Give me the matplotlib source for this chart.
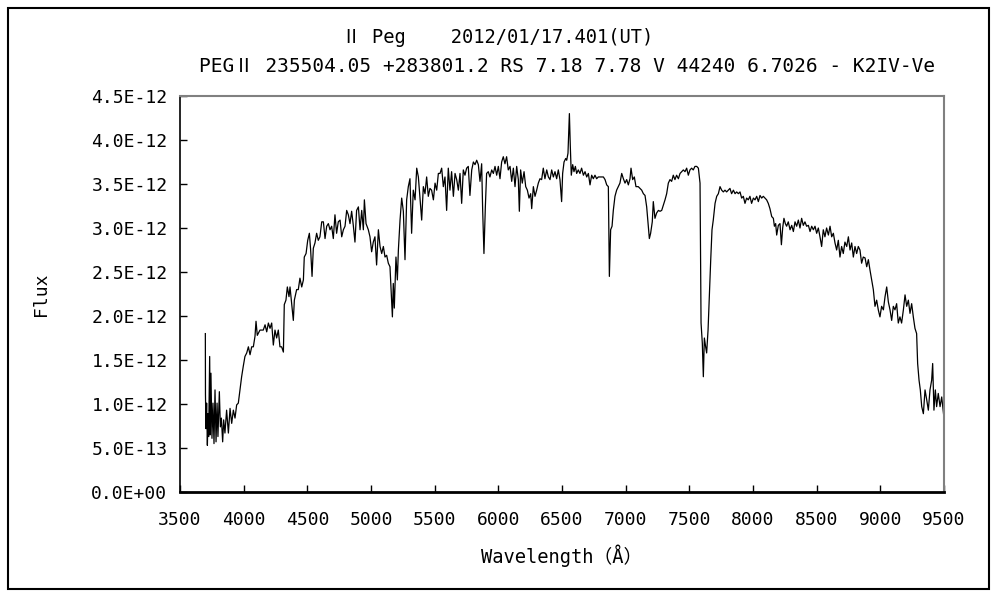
import matplotlib
matplotlib.use("Agg")
import matplotlib.pyplot as plt
from matplotlib.patches import Rectangle
from matplotlib.ticker import FuncFormatter, MultipleLocator

plt.rcParams['font.family'] = ['DejaVu Sans Mono', 'Noto Sans CJK JP']

title1 = "Ⅱ Peg    2012/01/17.401(UT)"
title2 = "PEGⅡ 235504.05 +283801.2 RS 7.18 7.78 V 44240 6.7026 - K2IV-Ve"

# wavelength (A) and flux (1E-12)
wavelength = [
    3699, 3700, 3704, 3709, 3715, 3720, 3725, 3733, 3738, 3743, 3751, 3759, 3767, 3775, 3783, 3791,
    3798, 3809, 3817, 3825, 3835, 3843, 3853, 3866, 3880, 3893, 3906, 3919, 3932, 3945, 3958, 3971,
    3984, 3997, 4010, 4024, 4037, 4050, 4063, 4076, 4089, 4097, 4107, 4128, 4154, 4168, 4181, 4194,
    4207, 4220, 4233, 4246, 4259, 4272, 4285, 4298, 4312, 4319, 4332, 4343, 4356, 4364, 4377, 4390,
    4398, 4416, 4429, 4442, 4456, 4469, 4476, 4490, 4503, 4516, 4526, 4537, 4547, 4560, 4573, 4586,
    4599, 4613, 4626, 4639, 4652, 4665, 4678, 4691, 4704, 4717, 4730, 4743, 4757, 4770, 4783, 4796,
    4809, 4822, 4835, 4848, 4861, 4874, 4887, 4901, 4914, 4927, 4940, 4948, 4961, 4979, 4992, 5005,
    5018, 5031, 5044, 5058, 5071, 5084, 5097, 5110, 5123, 5136, 5149, 5157, 5168, 5175, 5183, 5196,
    5207, 5215, 5228, 5241, 5254, 5267, 5280, 5293, 5306, 5319, 5332, 5346, 5359, 5372, 5385, 5398,
    5411, 5424, 5437, 5450, 5463, 5476, 5490, 5503, 5516, 5529,
    5542, 5555, 5568, 5581, 5594, 5607, 5620, 5633, 5647, 5660, 5673, 5686, 5699, 5712, 5725, 5738,
    5751, 5764, 5777, 5791, 5804, 5817, 5830, 5843, 5856, 5869, 5877, 5887, 5898, 5908, 5921, 5934,
    5948, 5961, 5974, 5987, 6000, 6013, 6026, 6039, 6052, 6065, 6078, 6092, 6105, 6118, 6131, 6144,
    6157, 6165, 6175, 6188, 6202, 6215, 6228, 6241, 6254, 6262, 6275, 6288, 6301, 6314, 6327, 6340,
    6353, 6366, 6380, 6393, 6406, 6419, 6432, 6445, 6458, 6471, 6484, 6497, 6505, 6516, 6529, 6537,
    6547, 6558, 6565, 6573, 6584, 6594, 6605, 6615, 6628, 6641, 6654, 6668, 6681, 6694, 6707, 6720,
    6733, 6746, 6759, 6772, 6785, 6798, 6812, 6825, 6838, 6851, 6864, 6872, 6882, 6893, 6903, 6916,
    6929, 6942, 6955, 6969, 6982, 6995, 7008, 7021, 7034, 7042, 7055, 7068, 7081, 7099, 7113, 7126,
    7139, 7152, 7165, 7178, 7186, 7196, 7209, 7217, 7230, 7243, 7257, 7270, 7283, 7296, 7309, 7322,
    7335, 7348, 7361, 7374, 7387, 7400, 7414,
    7427, 7440, 7453, 7466, 7479, 7492, 7505, 7518, 7531, 7544, 7558, 7571, 7584, 7592, 7602, 7610,
    7618, 7628, 7636, 7647, 7657, 7668, 7678, 7688, 7702, 7715, 7728, 7741, 7754, 7767, 7780, 7793,
    7806, 7819, 7832, 7846, 7859, 7872, 7885, 7898, 7911, 7924, 7937, 7950, 7963, 7976, 7989, 8003,
    8016, 8029, 8042, 8055, 8068, 8081, 8094, 8107, 8120, 8133, 8147, 8160, 8168, 8178, 8186, 8199,
    8212, 8223, 8233, 8243, 8254, 8264, 8277, 8291, 8304, 8317, 8330, 8343, 8356, 8369, 8382, 8395,
    8408, 8421, 8435, 8448, 8461, 8474, 8487, 8500, 8513, 8526, 8539, 8552, 8565, 8578, 8592, 8605,
    8618, 8631, 8644, 8657, 8670, 8683, 8696, 8709, 8722, 8736, 8749, 8762, 8775, 8788, 8801, 8814,
    8827, 8840, 8853, 8866, 8880, 8893, 8906, 8919, 8932, 8945, 8958, 8971, 8984, 8997, 9010, 9024,
    9037, 9050, 9063, 9076, 9089, 9102, 9115, 9128, 9141, 9154, 9167, 9181, 9194, 9207, 9220, 9233,
    9246, 9259, 9272, 9285, 9293, 9304, 9314, 9325, 9338, 9351, 9364, 9377, 9390, 9403, 9411, 9421,
    9432, 9442, 9455, 9469, 9482, 9495, 9500,
]

flux = [
    1.80, 1.11, 0.72, 1.01, 0.53, 0.89, 0.63, 1.54, 0.65, 1.35, 0.61, 1.01, 0.55, 1.16, 0.57, 1.01,
    0.63, 1.14, 0.74, 0.84, 0.57, 0.82, 0.67, 0.93, 0.67, 0.95, 0.78, 0.93, 0.84, 0.99, 1.01, 1.16,
    1.31, 1.43, 1.54, 1.58, 1.65, 1.56, 1.65, 1.65, 1.77, 1.94, 1.78, 1.84, 1.84, 1.90, 1.82, 1.92,
    1.86, 1.92, 1.67, 1.84, 1.75, 1.84, 1.65, 1.65, 1.59, 2.13, 2.18, 2.33, 2.22, 2.33, 2.14, 1.95,
    2.18, 2.30, 2.30, 2.43, 2.33, 2.41, 2.67, 2.71, 2.86, 2.94, 2.75, 2.45, 2.77, 2.83, 2.94, 2.86,
    2.90, 3.07, 3.07, 2.88, 3.02, 3.05, 2.98, 3.02, 2.88, 3.15, 2.94, 3.07, 3.09, 2.90, 2.98, 3.02,
    3.20, 3.15, 3.05, 3.19, 3.03, 2.84, 3.20, 3.24, 2.98, 3.20, 2.98, 3.32, 3.05, 2.98, 2.90, 2.73,
    2.84, 2.90, 2.58, 2.98, 2.79, 2.71, 2.79, 2.67, 2.69, 2.60, 2.56, 2.33, 1.99, 2.37, 2.09, 2.67,
    2.41, 2.75, 3.09, 3.34, 3.19, 2.64, 3.32, 3.47, 3.56, 2.94, 3.43, 3.32, 3.68, 3.58, 3.34, 3.09,
    3.47, 3.39, 3.58, 3.36, 3.45, 3.43, 3.32, 3.51, 3.43, 3.62,
    3.62, 3.68, 3.47, 3.58, 3.20, 3.68, 3.43, 3.64, 3.36, 3.62, 3.55, 3.43, 3.62, 3.28, 3.66, 3.60,
    3.68, 3.70, 3.37, 3.66, 3.75, 3.72, 3.77, 3.72, 3.53, 3.73, 3.20, 2.71, 3.24, 3.62, 3.64, 3.58,
    3.66, 3.62, 3.70, 3.60, 3.70, 3.56, 3.75, 3.81, 3.73, 3.81, 3.66, 3.70, 3.53, 3.68, 3.47, 3.70,
    3.55, 3.19, 3.66, 3.51, 3.64, 3.47, 3.43, 3.34, 3.39, 3.22, 3.47, 3.36, 3.43, 3.51, 3.56, 3.55,
    3.68, 3.56, 3.66, 3.58, 3.55, 3.66, 3.58, 3.64, 3.56, 3.66, 3.55, 3.30, 3.62, 3.75, 3.79, 3.77,
    3.85, 4.30, 3.94, 3.60, 3.72, 3.64, 3.70, 3.62, 3.66, 3.62, 3.68, 3.60, 3.64, 3.58, 3.62, 3.49,
    3.60, 3.56, 3.60, 3.56, 3.58, 3.58, 3.58, 3.58, 3.55, 3.49, 3.47, 2.45, 2.98, 3.02, 3.20, 3.36,
    3.43, 3.47, 3.51, 3.62, 3.56, 3.51, 3.55, 3.49, 3.56, 3.68, 3.55, 3.58, 3.47, 3.47, 3.45, 3.43,
    3.39, 3.37, 3.24, 3.02, 2.88, 2.94, 3.07, 3.30, 3.11, 3.17, 3.20, 3.19, 3.20, 3.26, 3.32, 3.39,
    3.51, 3.55, 3.53, 3.60, 3.55, 3.60, 3.56,
    3.62, 3.64, 3.66, 3.64, 3.68, 3.60, 3.66, 3.68, 3.66, 3.70, 3.70, 3.68, 3.51, 1.92, 1.69, 1.31,
    1.75, 1.65, 1.58, 1.84, 2.22, 2.64, 2.98, 3.09, 3.28, 3.36, 3.39, 3.47, 3.43, 3.41, 3.43, 3.41,
    3.43, 3.45, 3.39, 3.43, 3.39, 3.41, 3.39, 3.41, 3.34, 3.36, 3.28, 3.34, 3.32, 3.36, 3.28, 3.34,
    3.32, 3.36, 3.30, 3.37, 3.34, 3.36, 3.34, 3.32, 3.28, 3.22, 3.13, 3.11, 3.02, 3.05, 2.92, 3.03,
    3.05, 2.81, 3.00, 3.11, 3.05, 3.02, 3.07, 2.98, 3.03, 2.96, 3.07, 3.02, 3.09, 3.00, 3.11, 3.03,
    3.07, 3.02, 3.03, 2.96, 3.02, 2.98, 3.02, 2.94, 3.00, 2.90, 2.79, 2.98, 2.90, 3.00, 2.92, 3.02,
    2.90, 2.94, 2.83, 2.75, 2.86, 2.67, 2.79, 2.71, 2.84, 2.79, 2.90, 2.75, 2.83, 2.67, 2.79, 2.71,
    2.79, 2.75, 2.60, 2.67, 2.66, 2.56, 2.64, 2.52, 2.41, 2.30, 2.11, 2.18, 2.07, 1.99, 2.11, 2.07,
    2.22, 2.33, 2.16, 2.07, 1.95, 2.11, 2.07, 2.14, 1.92, 1.99, 1.92, 2.07, 2.24, 2.11, 2.18, 2.03,
    2.14, 1.99, 1.86, 1.80, 1.46, 1.27, 1.16, 0.97, 0.89, 1.16, 1.05, 0.93, 1.16, 1.27, 1.46, 0.93,
    1.16, 0.97, 1.12, 0.97, 1.08, 0.91, 0.84,
]

flux_abs = [f * 1e-12 for f in flux]

fig = plt.figure(figsize=(10, 6), dpi=100)
ax = fig.add_axes([0.18, 0.18, 0.764, 0.66])

ax.plot(wavelength, flux_abs, color='black', linewidth=0.9)

ax.set_xlim(3500, 9500)
ax.set_ylim(0, 4.5e-12)
ax.xaxis.set_major_locator(MultipleLocator(500))
ax.yaxis.set_major_locator(MultipleLocator(0.5e-12))
ax.yaxis.set_major_formatter(FuncFormatter(lambda v, p: "%.1E" % v))

ax.tick_params(direction='in', length=5, width=1, labelsize=13, colors='black')
ax.tick_params(axis='x', pad=14)
ax.tick_params(axis='y', pad=9)

for side in ['top', 'right']:
    ax.spines[side].set_color('#808080')
    ax.spines[side].set_linewidth(1.5)
ax.spines['left'].set_color('black')
ax.spines['bottom'].set_color('black')
ax.spines['left'].set_linewidth(1.2)
ax.spines['bottom'].set_linewidth(2)

ax.set_xlabel("Wavelength（Å）", fontsize=13.5, labelpad=11)
ax.set_ylabel("Flux", fontsize=13, labelpad=30)

fig.text(0.498, 0.937, title1, ha='center', va='center', fontsize=13.5)
fig.text(0.567, 0.89, title2, ha='center', va='center', fontsize=14)

fig.patches.append(Rectangle((0.008, 0.018), 0.981, 0.969, transform=fig.transFigure,
                             fill=False, edgecolor='black', linewidth=1.5))

fig.savefig("out.png", dpi=100, facecolor='white')
